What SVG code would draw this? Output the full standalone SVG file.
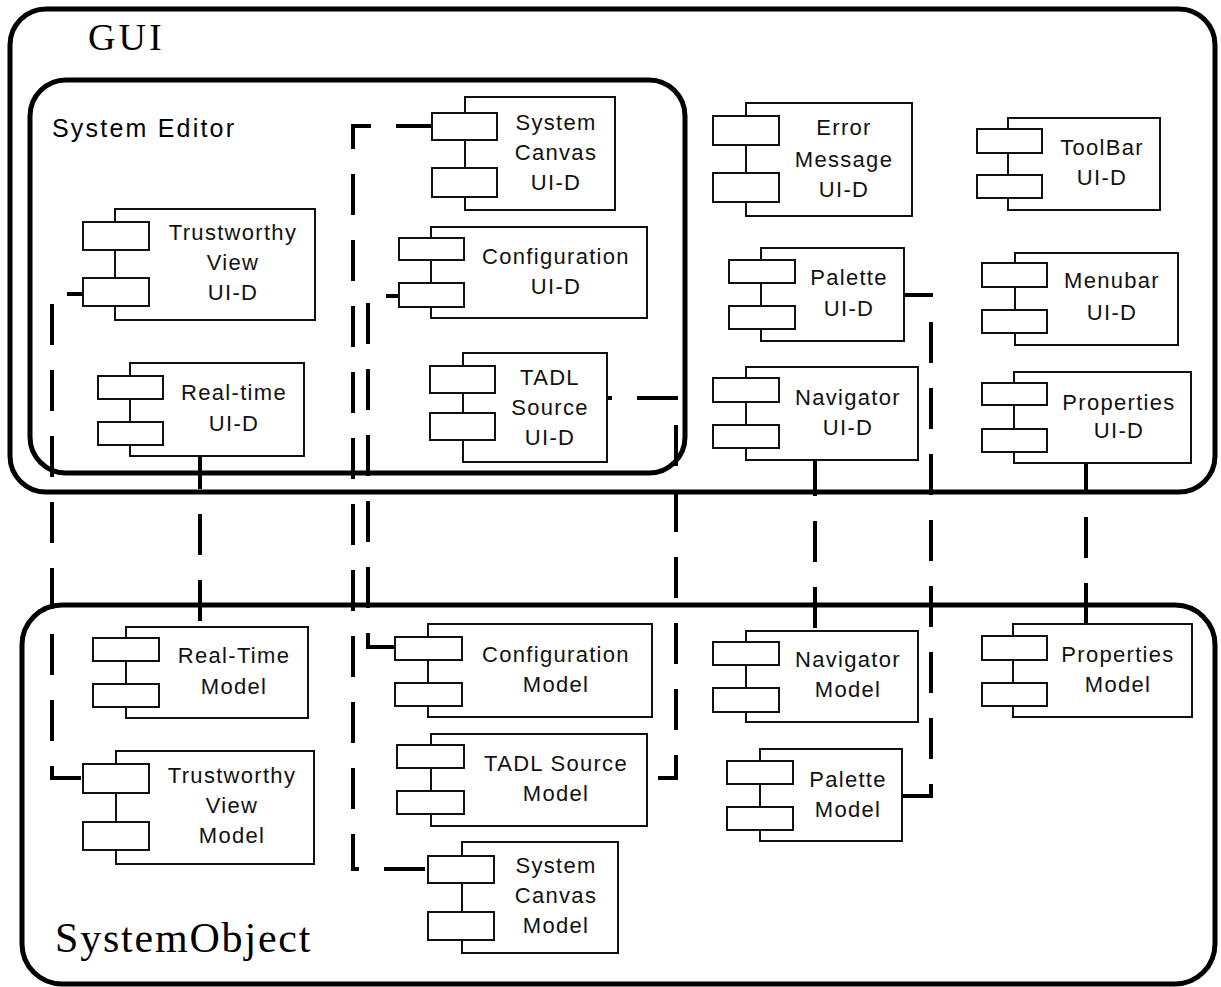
<svg xmlns="http://www.w3.org/2000/svg" width="1221" height="987" viewBox="0 0 1221 987">
  <style>
    .frame { fill: none; stroke: #000; stroke-width: 5; }
    .box { fill: #fff; stroke: #111; stroke-width: 2; }
    .port { fill: #fff; stroke: #111; stroke-width: 2; }
    .conn { fill: none; stroke: #000; stroke-width: 4; stroke-dasharray: 41 25; }
    .lbl { font-family: "Liberation Sans", Arial, sans-serif; font-size: 22px; letter-spacing: 1.3px; text-anchor: middle; fill: #111; }
    .title { font-family: "Liberation Serif", "Times New Roman", serif; fill: #000; }
    .sub { font-family: "Liberation Sans", Arial, sans-serif; font-size: 25px; letter-spacing: 2.2px; fill: #000; }
  </style>

  <rect width="1221" height="987" fill="#fff"/>

  <!-- containers -->
  <g id="gui">
    <rect class="frame" x="10" y="9" width="1205" height="483" rx="36" ry="36"/>
    <text class="title" x="88" y="50" font-size="38" letter-spacing="3">GUI</text>
  </g>
  <g id="system-editor">
    <rect class="frame" x="30" y="80" width="655" height="393" rx="36" ry="36"/>
    <text class="sub" x="52" y="137">System Editor</text>
  </g>
  <g id="system-object">
    <rect class="frame" x="22" y="605" width="1193" height="379" rx="40" ry="40"/>
    <text class="title" x="55" y="952" font-size="42" letter-spacing="1.8">SystemObject</text>
  </g>

  <!-- connectors between UI-D parts and their models -->
  <g id="connectors">
    <path class="conn" d="M83,294 H52 V778 H83" stroke-dashoffset="25"/>
    <path class="conn" d="M200,456 V627" stroke-dashoffset="8"/>
    <path class="conn" d="M432,126 H353 V869 H428" stroke-dashoffset="5"/>
    <path class="conn" d="M399,296 H368 V647 H395" stroke-dashoffset="28"/>
    <path class="conn" d="M607,398 H676 V778 H647" stroke-dashoffset="36"/>
    <path class="conn" d="M815,460 V631" stroke-dashoffset="5"/>
    <path class="conn" d="M904,295 H931 V796 H902" stroke-dashoffset="12"/>
    <path class="conn" d="M1086,463 V624" stroke-dashoffset="12"/>
  </g>

  <!-- GUI components -->
  <g id="trustworthy-view-uid">
    <rect class="box" x="115" y="209" width="200" height="111"/>
    <rect class="port" x="83" y="222" width="66" height="28"/>
    <rect class="port" x="83" y="278" width="66" height="28"/>
    <text class="lbl" x="233" y="240">Trustworthy</text>
    <text class="lbl" x="233" y="270">View</text>
    <text class="lbl" x="233" y="300">UI-D</text>
  </g>
  <g id="real-time-uid">
    <rect class="box" x="130" y="363" width="174" height="93"/>
    <rect class="port" x="98" y="376" width="65" height="23"/>
    <rect class="port" x="98" y="422" width="65" height="23"/>
    <text class="lbl" x="234" y="400">Real-time</text>
    <text class="lbl" x="234" y="431">UI-D</text>
  </g>
  <g id="system-canvas-uid">
    <rect class="box" x="465" y="97" width="150" height="113"/>
    <rect class="port" x="432" y="113" width="65" height="27"/>
    <rect class="port" x="432" y="168" width="65" height="29"/>
    <text class="lbl" x="556" y="130">System</text>
    <text class="lbl" x="556" y="160">Canvas</text>
    <text class="lbl" x="556" y="190">UI-D</text>
  </g>
  <g id="configuration-uid">
    <rect class="box" x="431" y="227" width="216" height="91"/>
    <rect class="port" x="399" y="238" width="65" height="22"/>
    <rect class="port" x="399" y="283" width="65" height="24"/>
    <text class="lbl" x="556" y="264">Configuration</text>
    <text class="lbl" x="556" y="294">UI-D</text>
  </g>
  <g id="tadl-source-uid">
    <rect class="box" x="463" y="353" width="144" height="109"/>
    <rect class="port" x="430" y="366" width="65" height="27"/>
    <rect class="port" x="430" y="413" width="65" height="27"/>
    <text class="lbl" x="550" y="385">TADL</text>
    <text class="lbl" x="550" y="415">Source</text>
    <text class="lbl" x="550" y="445">UI-D</text>
  </g>
  <g id="error-message-uid">
    <rect class="box" x="746" y="103" width="166" height="113"/>
    <rect class="port" x="713" y="116" width="66" height="29"/>
    <rect class="port" x="713" y="173" width="66" height="29"/>
    <text class="lbl" x="844" y="135">Error</text>
    <text class="lbl" x="844" y="167">Message</text>
    <text class="lbl" x="844" y="197">UI-D</text>
  </g>
  <g id="toolbar-uid">
    <rect class="box" x="1008" y="118" width="152" height="92"/>
    <rect class="port" x="977" y="129" width="65" height="24"/>
    <rect class="port" x="977" y="175" width="65" height="23"/>
    <text class="lbl" x="1102" y="155">ToolBar</text>
    <text class="lbl" x="1102" y="185">UI-D</text>
  </g>
  <g id="palette-uid">
    <rect class="box" x="761" y="248" width="143" height="93"/>
    <rect class="port" x="729" y="260" width="66" height="23"/>
    <rect class="port" x="729" y="306" width="66" height="23"/>
    <text class="lbl" x="849" y="285">Palette</text>
    <text class="lbl" x="849" y="316">UI-D</text>
  </g>
  <g id="menubar-uid">
    <rect class="box" x="1015" y="253" width="163" height="92"/>
    <rect class="port" x="982" y="263" width="65" height="24"/>
    <rect class="port" x="982" y="310" width="65" height="23"/>
    <text class="lbl" x="1112" y="288">Menubar</text>
    <text class="lbl" x="1112" y="320">UI-D</text>
  </g>
  <g id="navigator-uid">
    <rect class="box" x="746" y="367" width="172" height="93"/>
    <rect class="port" x="713" y="378" width="66" height="24"/>
    <rect class="port" x="713" y="425" width="66" height="23"/>
    <text class="lbl" x="848" y="405">Navigator</text>
    <text class="lbl" x="848" y="435">UI-D</text>
  </g>
  <g id="properties-uid">
    <rect class="box" x="1014" y="372" width="177" height="91"/>
    <rect class="port" x="982" y="383" width="65" height="22"/>
    <rect class="port" x="982" y="429" width="65" height="23"/>
    <text class="lbl" x="1119" y="410">Properties</text>
    <text class="lbl" x="1119" y="438">UI-D</text>
  </g>

  <!-- model components -->
  <g id="real-time-model">
    <rect class="box" x="126" y="627" width="182" height="91"/>
    <rect class="port" x="93" y="638" width="66" height="23"/>
    <rect class="port" x="93" y="684" width="66" height="23"/>
    <text class="lbl" x="234" y="663">Real-Time</text>
    <text class="lbl" x="234" y="694">Model</text>
  </g>
  <g id="trustworthy-view-model">
    <rect class="box" x="116" y="751" width="198" height="113"/>
    <rect class="port" x="83" y="764" width="66" height="29"/>
    <rect class="port" x="83" y="822" width="66" height="28"/>
    <text class="lbl" x="232" y="783">Trustworthy</text>
    <text class="lbl" x="232" y="813">View</text>
    <text class="lbl" x="232" y="843">Model</text>
  </g>
  <g id="configuration-model">
    <rect class="box" x="428" y="624" width="224" height="93"/>
    <rect class="port" x="395" y="637" width="67" height="23"/>
    <rect class="port" x="395" y="683" width="67" height="23"/>
    <text class="lbl" x="556" y="662">Configuration</text>
    <text class="lbl" x="556" y="692">Model</text>
  </g>
  <g id="tadl-source-model">
    <rect class="box" x="431" y="734" width="216" height="92"/>
    <rect class="port" x="397" y="745" width="67" height="23"/>
    <rect class="port" x="397" y="791" width="67" height="23"/>
    <text class="lbl" x="556" y="771">TADL Source</text>
    <text class="lbl" x="556" y="801">Model</text>
  </g>
  <g id="system-canvas-model">
    <rect class="box" x="462" y="842" width="156" height="111"/>
    <rect class="port" x="428" y="856" width="66" height="27"/>
    <rect class="port" x="428" y="912" width="66" height="28"/>
    <text class="lbl" x="556" y="873">System</text>
    <text class="lbl" x="556" y="903">Canvas</text>
    <text class="lbl" x="556" y="933">Model</text>
  </g>
  <g id="navigator-model">
    <rect class="box" x="746" y="631" width="172" height="91"/>
    <rect class="port" x="713" y="642" width="66" height="23"/>
    <rect class="port" x="713" y="688" width="66" height="24"/>
    <text class="lbl" x="848" y="667">Navigator</text>
    <text class="lbl" x="848" y="697">Model</text>
  </g>
  <g id="palette-model">
    <rect class="box" x="760" y="749" width="142" height="92"/>
    <rect class="port" x="727" y="761" width="66" height="23"/>
    <rect class="port" x="727" y="807" width="66" height="23"/>
    <text class="lbl" x="848" y="787">Palette</text>
    <text class="lbl" x="848" y="817">Model</text>
  </g>
  <g id="properties-model">
    <rect class="box" x="1013" y="624" width="179" height="93"/>
    <rect class="port" x="982" y="636" width="65" height="24"/>
    <rect class="port" x="982" y="683" width="65" height="23"/>
    <text class="lbl" x="1118" y="662">Properties</text>
    <text class="lbl" x="1118" y="692">Model</text>
  </g>
</svg>
